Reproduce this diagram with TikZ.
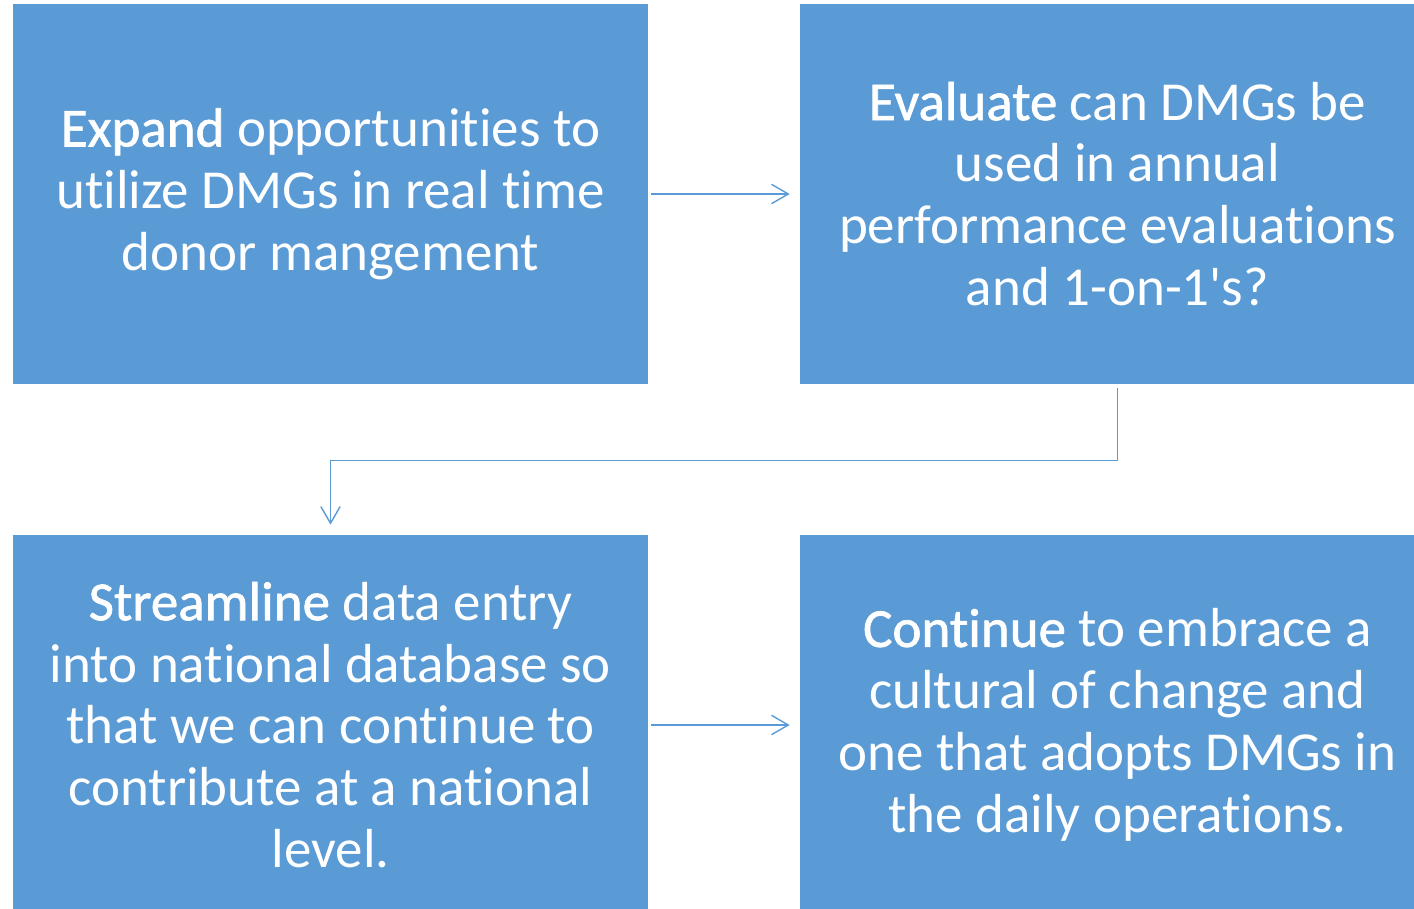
\documentclass[tikz,border=0pt]{standalone}
\usepackage{fontspec}
\setmainfont{Carlito}[RawFeature=-liga]
\newfontfamily\kwfont{Carlito}[RawFeature=-liga, FakeBold=1.2]
\usetikzlibrary{arrows.meta,
	positioning
}
\definecolor{stepblue}{HTML}{5B9BD5}
\newcommand{\Kw}[1]{{\kwfont #1}}
\tikzset{Flow/.style = {
		every node/.style = {rectangle, fill=stepblue, draw=none, text=white,
			minimum width=12.7cm, minimum height=7.6cm, inner sep=0pt,
			align=center, font=\fontsize{31.3}{35.2}\selectfont
		},
		link/.style = {draw=stepblue, line width=0.8pt,
			-{Straight Barb[length=9.5pt,width=11pt]},
			shorten <=0.06cm, shorten >=0.2cm
		}
	}% end of Flow style
}

\begin{document}
\begin{tikzpicture}[Flow]
  \useasboundingbox (0,0) rectangle (28.28,-18.18);
  \clip (0,0) rectangle (28.28,-18.18);

  \node (expand) at (6.61,-3.88) {\Kw{Expand} opportunities to\\utilize DMGs in real time\\donor mangement};
  \node (evaluate) at (22.35,-3.88) {\Kw{Evaluate} can DMGs be\\used in annual\\performance evaluations\\and 1-on-1\textquotesingle s?};
  \node (streamline) at (6.61,-14.5) {\Kw{Streamline} data entry\\into national database so\\that we can continue to\\contribute at a national\\level.};
  \node (continue) at (22.35,-14.5) {\Kw{Continue} to embrace a\\cultural of change and\\one that adopts DMGs in\\the daily operations.};

  \draw[link] (expand) -- (evaluate);
  \draw[link, shorten <=0.08cm] (evaluate.south) -- ++(0,-1.52) -| (streamline.north);
  \draw[link] (streamline) -- (continue);
\end{tikzpicture}
\end{document}
